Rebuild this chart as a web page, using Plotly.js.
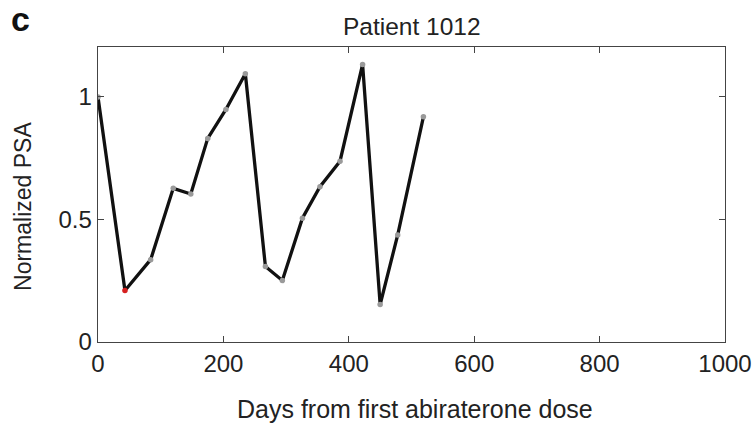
<!DOCTYPE html>
<html>
<head>
<meta charset="utf-8">
<script src="https://cdn.plot.ly/plotly-3.0.1.min.js"></script>
<style>html,body{margin:0;padding:0;background:#fff;}#chart{width:756px;height:424px;}</style>
</head>
<body>
<div id="chart"></div>
<script>
// Days from first abiraterone dose
var days = [0, 43, 84, 120, 148, 175, 204, 235, 267, 294, 326, 354, 386, 422, 450, 478, 519];
// Normalized PSA
var psa = [1.0, 0.21, 0.336, 0.627, 0.604, 0.831, 0.949, 1.095, 0.308, 0.251, 0.505, 0.634, 0.738, 1.133, 0.153, 0.437, 0.919];
// Highlighted nadir point (red)
var nadirIndex = 1;
var xTicks = [0, 200, 400, 600, 800, 1000];
var yTicks = [0, 0.5, 1];
var yTickLabels = ['0', '0.5', '1'];

var markerColors = psa.map(function (v, i) { return i === nadirIndex ? '#d62020' : '#9a9a9a'; });

var trace = {
  x: days,
  y: psa,
  mode: 'lines+markers',
  line: {color: '#111111', width: 3.3},
  marker: {color: markerColors, size: 5.5, line: {width: 0}},
  hoverinfo: 'x+y'
};

var font = 'Liberation Sans, Arial, Helvetica, sans-serif';
var layout = {
  width: 756,
  height: 424,
  autosize: false,
  margin: {l: 98, r: 31, t: 46.5, b: 81.5, pad: 0},
  paper_bgcolor: '#ffffff',
  plot_bgcolor: '#ffffff',
  showlegend: false,
  font: {family: font, color: '#222222', size: 24},
  xaxis: {
    range: [0, 1000],
    tickvals: xTicks,
    ticktext: xTicks.map(String),
    ticks: 'inside',
    ticklen: 6,
    tickwidth: 1,
    tickcolor: '#444444',
    showline: true,
    linecolor: '#444444',
    linewidth: 1.3,
    mirror: 'ticks',
    showgrid: false,
    zeroline: false,
    tickfont: {family: font, size: 24, color: '#222222'},
    fixedrange: true
  },
  yaxis: {
    range: [0, 1.204],
    tickvals: yTicks,
    ticktext: yTickLabels,
    ticks: 'inside',
    ticklen: 6,
    tickwidth: 1,
    tickcolor: '#444444',
    showline: true,
    linecolor: '#444444',
    linewidth: 1.3,
    mirror: 'ticks',
    showgrid: false,
    zeroline: false,
    tickfont: {family: font, size: 24, color: '#222222'},
    fixedrange: true
  },
  annotations: [
    {text: 'Patient 1012', xref: 'paper', yref: 'paper', x: 0.5, y: 1.0693,
     xanchor: 'center', yanchor: 'middle', showarrow: false,
     font: {family: font, size: 24.5, color: '#222222'}},
    {text: '<b>c</b>', xref: 'paper', yref: 'paper', x: -0.1244, y: 1.0963,
     xanchor: 'center', yanchor: 'middle', showarrow: false,
     font: {family: font, size: 34, color: '#111111'}},
    {text: 'Days from first abiraterone dose', xref: 'paper', yref: 'paper', x: 0.505, y: -0.2255,
     xanchor: 'center', yanchor: 'middle', showarrow: false,
     font: {family: font, size: 25, color: '#222222'}},
    {text: 'Normalized PSA', xref: 'paper', yref: 'paper', x: -0.1196, y: 0.4578,
     xanchor: 'center', yanchor: 'middle', showarrow: false, textangle: -90,
     font: {family: font, size: 23, color: '#222222'}}
  ]
};

Plotly.newPlot('chart', [trace], layout, {displayModeBar: false, staticPlot: true});
</script>
</body>
</html>
